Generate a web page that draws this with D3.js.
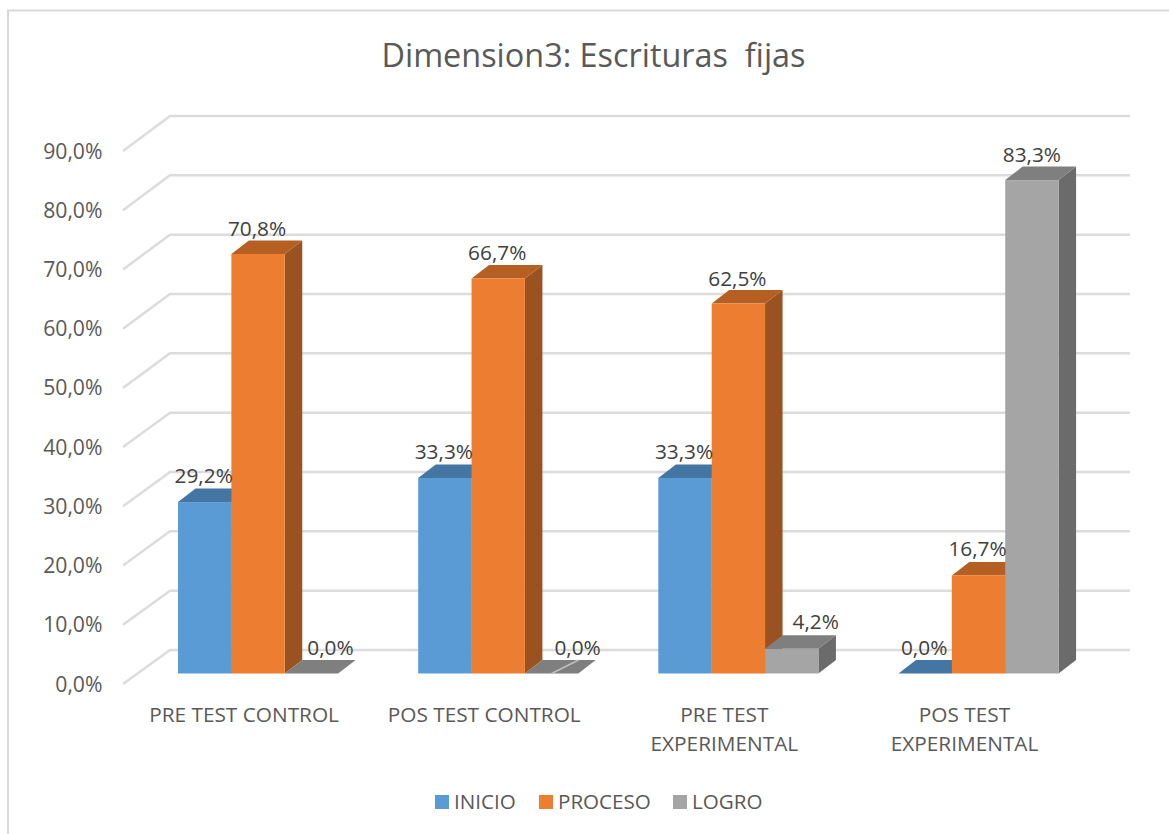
<!DOCTYPE html>
<html>
<head>
<meta charset="utf-8">
<script src="https://cdn.jsdelivr.net/npm/d3@7"></script>
<style>
  html, body { margin: 0; padding: 0; background: #fff; }
  svg { display: block; }
  text { font-family: "Open Sans", "Noto Sans", sans-serif; }
</style>
</head>
<body>
<div id="chart"></div>
<script>
"use strict";

var titleText = "Dimension3: Escrituras  fijas";
var categories = ["PRE TEST CONTROL", "POS TEST CONTROL", "PRE TEST EXPERIMENTAL", "POS TEST EXPERIMENTAL"];
var categoryLines = [["PRE TEST CONTROL"], ["POS TEST CONTROL"], ["PRE TEST", "EXPERIMENTAL"], ["POS TEST", "EXPERIMENTAL"]];
var seriesNames = ["INICIO", "PROCESO", "LOGRO"];
var inicio = [29.2, 33.3, 33.3, 0.0];
var proceso = [70.8, 66.7, 62.5, 16.7];
var logro = [0.0, 0.0, 4.2, 83.3];
var yTicks = [0, 10, 20, 30, 40, 50, 60, 70, 80, 90];

var seriesValues = [inicio, proceso, logro];
var front = ["#5b9bd5", "#ed7d31", "#a5a5a5"];
var topFace = ["#4476a3", "#b55f22", "#7f7f7f"];
var sideFace = ["#3c6890", "#9a5220", "#6b6b6b"];

var width = 1169, height = 834;
var fmt = function(v) { return v.toFixed(1).replace(".", ",") + "%"; };

var svg = d3.select("#chart").append("svg")
    .attr("width", width)
    .attr("height", height);

// outer frame: only the left and top edges are in the picture
svg.append("path")
    .attr("d", "M8,836V10.5H1169")
    .attr("fill", "none")
    .attr("stroke", "#d9d9d9")
    .attr("stroke-width", 2);

svg.append("text")
    .attr("x", 593.5).attr("y", 67)
    .attr("text-anchor", "middle")
    .attr("fill", "#595959")
    .attr("font-size", 32.4)
    .attr("xml:space", "preserve")
    .style("white-space", "pre")
    .text(titleText);

// scales: wall is the back plane, axisY the left edge of the floor,
// barY the plane the bars stand on (the picture's perspective is not quite linear)
var wallY = d3.scaleLinear().domain([0, 90]).range([650, 116]);
var axisY = d3.scaleLinear().domain([0, 90]).range([684, 151]);
var barY = d3.scaleLinear().domain([0, 33.3, 70.8, 90]).range([673.5, 478, 254, 140.5]);
var x0 = d3.scaleBand().domain(categories).range([138, 1098.6]).paddingInner(1 / 3).paddingOuter(1 / 6);
var x1 = d3.scaleBand().domain(seriesNames).range([0, x0.bandwidth()]);

var depthX = 17.5, depthY = 13.5;

var grid = svg.append("g")
    .attr("fill", "none")
    .attr("stroke", "#dcdcdc")
    .attr("stroke-width", 2.5);

grid.selectAll("path").data(yTicks).enter().append("path")
    .attr("d", function(d) { return "M123," + axisY(d) + "L170," + wallY(d) + "H1130"; });

svg.append("g").selectAll("text").data(yTicks).enter().append("text")
    .attr("x", 102.5)
    .attr("y", function(d) { return axisY(d) + 7.5; })
    .attr("text-anchor", "end")
    .attr("fill", "#595959")
    .attr("font-size", 21.2)
    .text(fmt);

// bars, left to right so each one covers the side of the previous
var bars = svg.append("g");
var labels = [];

categories.forEach(function(cat, i) {
    seriesNames.forEach(function(name, s) {
        var v = seriesValues[s][i];
        var l = x0(cat) + x1(name);
        var r = l + x1.bandwidth();
        var t = barY(v);
        var b = barY(0);

        bars.append("path")
            .attr("fill", sideFace[s])
            .attr("d", "M" + r + "," + t + "l" + depthX + "," + (-depthY) + "V" + (b - depthY) + "L" + r + "," + b + "Z");
        bars.append("path")
            .attr("fill", topFace[s])
            .attr("d", "M" + l + "," + t + "l" + depthX + "," + (-depthY) + "H" + (r + depthX) + "L" + r + "," + t + "Z");
        bars.append("rect")
            .attr("x", l).attr("y", t)
            .attr("width", r - l).attr("height", b - t)
            .attr("fill", front[s]);

        labels.push({ v: v, s: s, i: i, x: (l + r) / 2, top: t });
    });
});

// the pale scratch across the flat LOGRO bar of the second group
var scratchL = x0(categories[1]) + x1("LOGRO") + x1.bandwidth() / 2;
svg.append("line")
    .attr("x1", scratchL).attr("y1", barY(0))
    .attr("x2", scratchL + 27).attr("y2", barY(0) - depthY)
    .attr("stroke", "#bfbfbf")
    .attr("stroke-width", 1.5);

// flat or nearly flat LOGRO labels sit off to the right of their bar
var gridNudge = [19, 26, 24, 0];

svg.append("g").selectAll("text").data(labels).enter().append("text")
    .attr("x", function(d) { return d.x + (d.s === 2 ? gridNudge[d.i] : -1); })
    .attr("y", function(d) {
        if (d.v === 0) return d.top - 18.5;
        return d.top - (d.v < 50 ? 19.5 : 18);
    })
    .attr("text-anchor", "middle")
    .attr("fill", "#404040")
    .attr("font-size", 20.8)
    .text(function(d) { return fmt(d.v); });

// category labels
var catG = svg.append("g").selectAll("text").data(categories).enter().append("text")
    .attr("text-anchor", "middle")
    .attr("fill", "#595959")
    .attr("font-size", 20.8);

catG.each(function(cat, i) {
    var cx = x0(cat) + x0.bandwidth() / 2 - 14;
    d3.select(this).selectAll("tspan").data(categoryLines[i]).enter().append("tspan")
        .attr("x", cx)
        .attr("y", function(d, j) { return 722 + j * 29; })
        .text(function(d) { return d; });
});

// legend
var legendX = d3.scaleOrdinal().domain(seriesNames).range([435, 539, 673]);
var legend = svg.append("g").selectAll("g").data(seriesNames).enter().append("g")
    .attr("transform", function(d) { return "translate(" + legendX(d) + ",795)"; });

legend.append("rect")
    .attr("width", 14).attr("height", 14)
    .attr("fill", function(d, i) { return front[i]; });

legend.append("text")
    .attr("x", 19).attr("y", 14)
    .attr("fill", "#595959")
    .attr("font-size", 20.6)
    .text(function(d) { return d; });
</script>
</body>
</html>
